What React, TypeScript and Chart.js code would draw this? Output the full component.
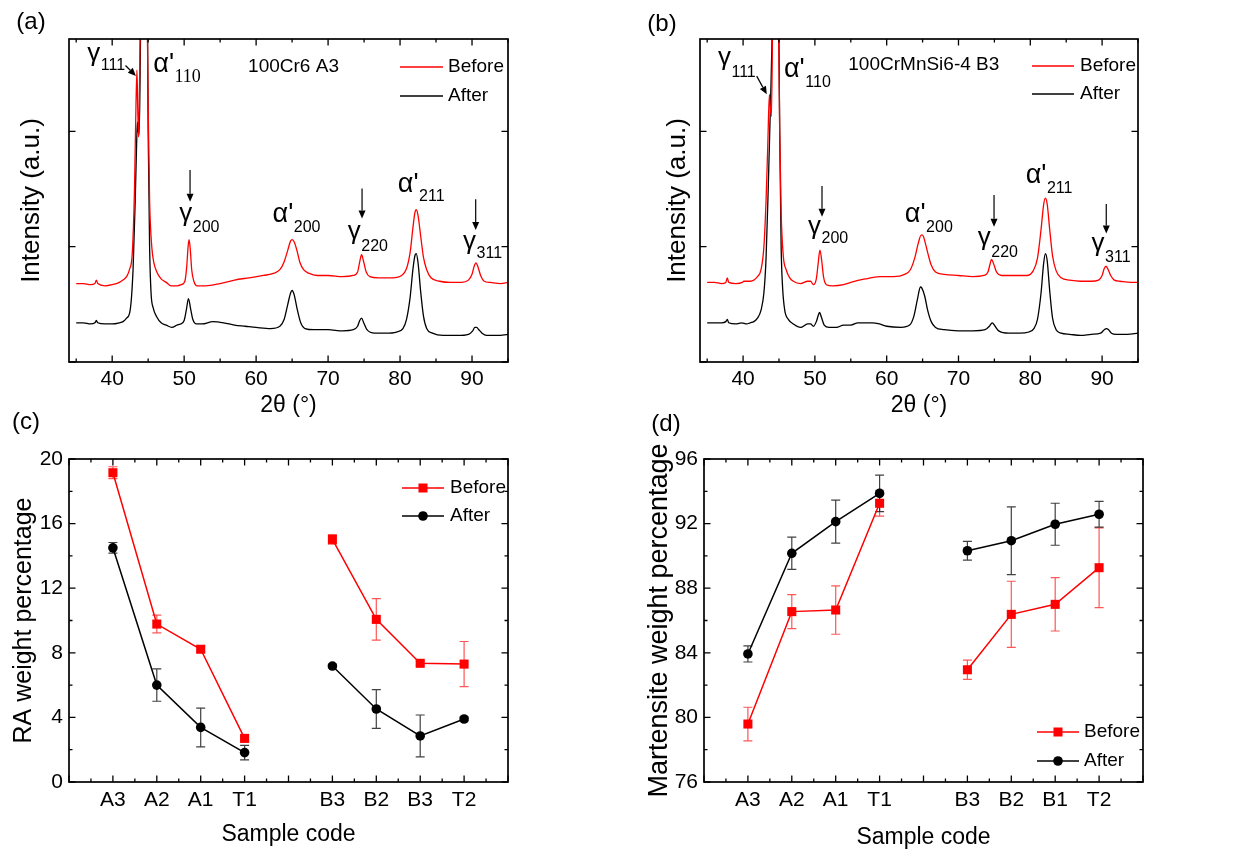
import React, { useEffect, useRef } from 'react';
import { Chart, registerables } from 'chart.js';

Chart.register(...registerables);

const SANS = '"Liberation Sans", Arial, Helvetica, sans-serif';
const SERIF = '"Liberation Serif", "Times New Roman", serif';
const RED = '#ff0000';
const BLACK = '#000000';
const RED_ERR = 'rgba(255,30,30,0.75)';
const BLACK_ERR = 'rgba(30,30,30,0.85)';

// ---------------- (a) 100Cr6 A3 : XRD, [2theta, intensity] ----------------
const xrdA_before: number[][] = [
  [35, 0.68], [36, 0.68], [37, 0.67], [37.6, 0.68], [37.8, 0.71], [38, 0.68], [39, 0.66], [40, 0.67],
  [41, 0.69], [41.5, 0.71], [42, 0.74], [42.4, 0.8], [42.8, 0.95], [43.1, 1.5], [43.3, 2.2], [43.44, 2.53],
  [43.55, 2.2], [43.67, 1.95], [43.8, 2.4], [44.0, 3.5], [44.4, 6.0], [44.8, 3.5], [45.0, 2.2], [45.2, 1.4],
  [45.5, 1.0], [45.8, 0.86], [46.2, 0.78], [46.8, 0.72], [47.5, 0.69], [48.2, 0.66], [49, 0.66], [49.6, 0.67],
  [50.1, 0.7], [50.35, 0.82], [50.55, 1.0], [50.68, 1.06], [50.85, 0.98], [51.05, 0.8], [51.35, 0.7], [51.8, 0.66],
  [53, 0.66], [55, 0.68], [57, 0.71], [59, 0.73], [61, 0.75], [62.5, 0.77], [63.3, 0.8], [63.9, 0.87],
  [64.4, 0.97], [64.8, 1.05], [65.0, 1.06], [65.3, 1.04], [65.7, 0.96], [66.1, 0.86], [66.6, 0.8], [67.3, 0.77],
  [68.5, 0.75], [70, 0.75], [72, 0.74], [73.5, 0.75], [74.1, 0.78], [74.4, 0.87], [74.65, 0.93], [74.9, 0.88],
  [75.3, 0.78], [75.8, 0.74], [77, 0.73], [79, 0.73], [80.2, 0.75], [80.9, 0.81], [81.4, 0.95], [81.8, 1.17],
  [82.05, 1.29], [82.25, 1.32], [82.5, 1.27], [82.85, 1.1], [83.25, 0.91], [83.7, 0.8], [84.3, 0.73], [85.5, 0.7],
  [87, 0.69], [88.5, 0.69], [89.5, 0.71], [90.0, 0.76], [90.3, 0.83], [90.55, 0.86], [90.85, 0.82], [91.2, 0.75],
  [91.7, 0.7], [92.5, 0.69], [94, 0.68], [95, 0.69],
];
const xrdA_after: number[][] = [
  [35, 0.34], [36, 0.34], [37, 0.33], [37.6, 0.34], [37.8, 0.36], [38, 0.34], [39, 0.33], [40, 0.33],
  [41, 0.34], [41.5, 0.35], [42, 0.38], [42.5, 0.45], [42.9, 0.8], [43.2, 1.4], [43.4, 1.9], [43.5, 2.08],
  [43.62, 2.0], [43.75, 1.97], [43.9, 2.6], [44.1, 4.0], [44.45, 6.0], [44.8, 4.0], [45.0, 2.0], [45.2, 1.0],
  [45.4, 0.6], [45.7, 0.47], [46.2, 0.39], [46.8, 0.34], [47.5, 0.32], [48.3, 0.3], [49, 0.32], [49.5, 0.33],
  [50.0, 0.36], [50.3, 0.45], [50.6, 0.55], [50.9, 0.46], [51.2, 0.37], [51.7, 0.33], [52.5, 0.33], [54, 0.35],
  [55.5, 0.34], [57, 0.32], [58.5, 0.31], [60, 0.3], [62, 0.29], [63.3, 0.31], [63.9, 0.37], [64.4, 0.5],
  [64.8, 0.6], [65.0, 0.62], [65.3, 0.58], [65.7, 0.46], [66.2, 0.34], [66.8, 0.29], [68, 0.28], [70, 0.28],
  [72, 0.27], [73.5, 0.28], [74.1, 0.31], [74.4, 0.36], [74.65, 0.38], [74.95, 0.34], [75.4, 0.28], [76.5, 0.25],
  [78, 0.25], [79.5, 0.26], [80.4, 0.29], [80.9, 0.37], [81.4, 0.56], [81.8, 0.81], [82.1, 0.93], [82.25, 0.94],
  [82.5, 0.86], [82.85, 0.62], [83.25, 0.4], [83.7, 0.29], [84.5, 0.25], [86, 0.23], [88, 0.23], [89.5, 0.24],
  [90.1, 0.27], [90.4, 0.3], [90.65, 0.3], [90.95, 0.28], [91.4, 0.25], [92, 0.23], [93.5, 0.23], [95, 0.24],
];

// ---------------- (b) 100CrMnSi6-4 B3 : XRD ----------------
const xrdB_before: number[][] = [
  [35, 0.69], [36, 0.69], [37, 0.68], [37.6, 0.69], [37.8, 0.73], [38.0, 0.69], [39, 0.68], [39.9, 0.69],
  [40.1, 0.7], [41, 0.7], [42, 0.74], [42.5, 0.8], [42.9, 1.0], [43.2, 1.4], [43.45, 1.9], [43.66, 2.32],
  [43.8, 2.2], [43.95, 2.13], [44.1, 2.9], [44.5, 6.0], [44.9, 3.2], [45.1, 2.0], [45.3, 1.3], [45.6, 0.92],
  [46, 0.8], [46.5, 0.73], [47, 0.7], [48, 0.68], [49, 0.7], [49.4, 0.7], [49.8, 0.67], [50.2, 0.72],
  [50.45, 0.85], [50.7, 0.97], [50.95, 0.88], [51.2, 0.74], [51.6, 0.67], [52.5, 0.66], [54, 0.67], [55, 0.69],
  [57, 0.72], [59, 0.74], [61, 0.74], [62.5, 0.76], [63.3, 0.8], [63.9, 0.9], [64.4, 1.03], [64.8, 1.1],
  [65.0, 1.1], [65.3, 1.05], [65.7, 0.95], [66.2, 0.84], [66.8, 0.78], [68, 0.76], [70, 0.75], [72, 0.74],
  [73.5, 0.75], [74.1, 0.78], [74.4, 0.85], [74.6, 0.89], [74.9, 0.85], [75.3, 0.78], [76, 0.75], [78, 0.75],
  [79.5, 0.75], [80.4, 0.79], [81.0, 0.9], [81.5, 1.15], [81.85, 1.36], [82.1, 1.42], [82.35, 1.37], [82.7, 1.15],
  [83.1, 0.92], [83.6, 0.79], [84.3, 0.73], [85.5, 0.71], [87, 0.7], [88.5, 0.7], [89.5, 0.71], [90.0, 0.75],
  [90.3, 0.81], [90.55, 0.83], [90.85, 0.8], [91.2, 0.75], [91.7, 0.71], [92.5, 0.7], [94, 0.69], [95, 0.69],
];
const xrdB_after: number[][] = [
  [35, 0.34], [36, 0.34], [37, 0.34], [37.6, 0.35], [37.8, 0.37], [38, 0.34], [39, 0.33], [39.8, 0.34],
  [40.5, 0.33], [41, 0.34], [41.5, 0.35], [42, 0.38], [42.5, 0.45], [42.9, 0.6], [43.2, 0.9], [43.5, 1.5],
  [43.8, 2.2], [44.0, 2.7], [44.2, 3.5], [44.5, 6.0], [44.9, 3.5], [45.1, 2.0], [45.3, 1.0], [45.5, 0.65],
  [45.8, 0.45], [46.3, 0.37], [47, 0.33], [48, 0.3], [49, 0.33], [49.4, 0.33], [49.8, 0.31], [50.2, 0.35],
  [50.5, 0.41], [50.65, 0.43], [50.9, 0.39], [51.3, 0.32], [52, 0.3], [53, 0.3], [54, 0.32], [55, 0.32],
  [56, 0.34], [57, 0.34], [58, 0.34], [59, 0.33], [60, 0.31], [62, 0.3], [63.2, 0.32], [63.8, 0.4],
  [64.3, 0.55], [64.7, 0.65], [64.9, 0.64], [65.3, 0.57], [65.7, 0.45], [66.2, 0.35], [66.8, 0.3], [68, 0.28],
  [70, 0.27], [72, 0.27], [73.7, 0.28], [74.3, 0.31], [74.7, 0.34], [75.1, 0.31], [75.6, 0.27], [77, 0.25],
  [78.5, 0.25], [79.8, 0.26], [80.5, 0.29], [81.0, 0.37], [81.5, 0.6], [81.85, 0.85], [82.1, 0.94], [82.35, 0.88],
  [82.7, 0.62], [83.1, 0.38], [83.6, 0.28], [84.3, 0.25], [85.5, 0.24], [87, 0.23], [88.5, 0.24], [89.8, 0.25],
  [90.3, 0.28], [90.6, 0.29], [90.9, 0.28], [91.3, 0.25], [92, 0.24], [93.5, 0.24], [95, 0.25],
];

// ---------------- (c) / (d) weight percentages ----------------
const samplePos = [1, 2, 3, 4, 6, 7, 8, 9];
const codesC = ['A3', 'A2', 'A1', 'T1', 'B3', 'B2', 'B3', 'T2'];
const codesD = ['A3', 'A2', 'A1', 'T1', 'B3', 'B2', 'B1', 'T2'];

const raBefore = [19.15, 9.78, 8.22, 2.7, 15.02, 10.07, 7.35, 7.3];
const raBeforeErr = [0.37, 0.55, 0.18, 0.12, 0.3, 1.28, 0.12, 1.4];
const raAfter = [14.5, 6.0, 3.38, 1.82, 7.18, 4.52, 2.85, 3.9];
const raAfterErr = [0.33, 1.0, 1.2, 0.45, 0.12, 1.2, 1.3, 0.12];

const martBefore = [79.59, 86.55, 86.65, 93.26, 82.95, 86.38, 87.0, 89.27];
const martBeforeErr = [1.04, 1.05, 1.5, 0.8, 0.6, 2.05, 1.65, 2.47];
const martAfter = [83.93, 90.16, 92.12, 93.87, 90.32, 90.94, 91.96, 92.58];
const martAfterErr = [0.5, 1.0, 1.33, 1.13, 0.58, 2.1, 1.3, 0.8];

// ---------------- annotations (data coordinates) ----------------
type Ann = { x: number; y: number; main: string; sub: string; subDy: number; subFont?: string; subSize?: number };
const annA: Ann[] = [
  { x: 36.55, y: 2.608, main: 'γ', sub: '111', subDy: 9 },
  { x: 45.71, y: 2.513, main: "α'", sub: '110', subDy: 10, subFont: SERIF, subSize: 18 },
  { x: 49.33, y: 1.222, main: 'γ', sub: '200', subDy: 11 },
  { x: 62.28, y: 1.213, main: "α'", sub: '200', subDy: 10 },
  { x: 72.73, y: 1.066, main: 'γ', sub: '220', subDy: 12 },
  { x: 79.69, y: 1.473, main: "α'", sub: '211', subDy: 9 },
  { x: 88.75, y: 0.979, main: 'γ', sub: '311', subDy: 9 },
];
const annB: Ann[] = [
  { x: 36.5, y: 2.574, main: 'γ', sub: '111', subDy: 12 },
  { x: 45.7, y: 2.47, main: "α'", sub: '110', subDy: 10 },
  { x: 49.04, y: 1.109, main: 'γ', sub: '200', subDy: 9 },
  { x: 62.53, y: 1.213, main: "α'", sub: '200', subDy: 10 },
  { x: 72.68, y: 1.014, main: 'γ', sub: '220', subDy: 12 },
  { x: 79.36, y: 1.551, main: "α'", sub: '211', subDy: 10 },
  { x: 88.54, y: 0.962, main: 'γ', sub: '311', subDy: 11 },
];
const arrowsA = [
  [41.85, 2.57, 43.3, 2.48],
  [50.82, 1.664, 50.82, 1.389],
  [74.72, 1.505, 74.72, 1.245],
  [90.51, 1.41, 90.51, 1.144],
];
const arrowsB = [
  [41.9, 2.478, 43.3, 2.32],
  [50.99, 1.525, 50.99, 1.259],
  [74.95, 1.447, 74.95, 1.172],
  [90.58, 1.369, 90.58, 1.115],
];

// ---------------- plugin: frame, inward ticks, error bars, legend, labels ----------------
function decor(d: any) {
  return {
    id: 'decor',
    beforeDatasetsDraw(chart: any) {
      const ctx = chart.ctx;
      const xs = chart.scales.x;
      const ys = chart.scales.y;
      chart.data.datasets.forEach((ds: any) => {
        if (!ds.errorColor) return;
        ctx.save();
        ctx.strokeStyle = ds.errorColor;
        ctx.lineWidth = 1.2;
        ds.data.forEach((p: any) => {
          if (p.y == null || !p.e) return;
          const px = xs.getPixelForValue(p.x);
          const y1 = ys.getPixelForValue(p.y + p.e);
          const y2 = ys.getPixelForValue(p.y - p.e);
          ctx.beginPath();
          ctx.moveTo(px, y1); ctx.lineTo(px, y2);
          ctx.moveTo(px - 4.5, y1); ctx.lineTo(px + 4.5, y1);
          ctx.moveTo(px - 4.5, y2); ctx.lineTo(px + 4.5, y2);
          ctx.stroke();
        });
        ctx.restore();
      });
    },
    afterDatasetsDraw(chart: any) {
      const ctx = chart.ctx;
      const { left, right, top, bottom } = chart.chartArea;
      const xs = chart.scales.x;
      const ys = chart.scales.y;
      const isMaj = (v: number, m: number) => Math.abs(v / m - Math.round(v / m)) < 1e-6;
      ctx.save();
      ctx.strokeStyle = '#000';
      ctx.lineWidth = 1.3;
      for (let k = Math.ceil(xs.min / d.xStep - 1e-9); k * d.xStep <= xs.max + 1e-9; k++) {
        const v = k * d.xStep;
        const p = xs.getPixelForValue(v);
        const L = isMaj(v, d.xMajor) ? 6.5 : 3.5;
        ctx.beginPath();
        ctx.moveTo(p, bottom); ctx.lineTo(p, bottom - L);
        ctx.moveTo(p, top); ctx.lineTo(p, top + L);
        ctx.stroke();
      }
      for (let k = Math.ceil(ys.min / d.yStep - 1e-9); k * d.yStep <= ys.max + 1e-9; k++) {
        const v = k * d.yStep;
        const p = ys.getPixelForValue(v);
        const L = isMaj(v, d.yMajor) ? 6.5 : 3.5;
        ctx.beginPath();
        ctx.moveTo(left, p); ctx.lineTo(left + L, p);
        ctx.moveTo(right, p); ctx.lineTo(right - L, p);
        ctx.stroke();
      }
      ctx.lineWidth = 1.7;
      ctx.strokeRect(left, top, right - left, bottom - top);

      // annotations
      ctx.fillStyle = '#000';
      ctx.textAlign = 'left';
      ctx.textBaseline = 'alphabetic';
      (d.anns || []).forEach((a: Ann) => {
        const px = xs.getPixelForValue(a.x);
        const py = ys.getPixelForValue(a.y);
        const isAlpha = a.main.startsWith('α');
        ctx.font = `${isAlpha ? 27 : 26}px ${SANS}`;
        ctx.fillText(a.main, px, py);
        const w = ctx.measureText(a.main).width;
        ctx.font = `${a.subSize || 16}px ${a.subFont || SANS}`;
        ctx.fillText(a.sub, px + w + 0.5, py + a.subDy);
      });
      // arrows
      ctx.strokeStyle = '#000';
      ctx.lineWidth = 1.2;
      (d.arrows || []).forEach((ar: number[]) => {
        const x1 = xs.getPixelForValue(ar[0]);
        const y1 = ys.getPixelForValue(ar[1]);
        const x2 = xs.getPixelForValue(ar[2]);
        const y2 = ys.getPixelForValue(ar[3]);
        const ang = Math.atan2(y2 - y1, x2 - x1);
        const hl = 8, hw = 3.5;
        const bx = x2 - hl * Math.cos(ang);
        const by = y2 - hl * Math.sin(ang);
        ctx.beginPath();
        ctx.moveTo(x1, y1); ctx.lineTo(bx, by);
        ctx.stroke();
        ctx.beginPath();
        ctx.moveTo(x2, y2);
        ctx.lineTo(bx + hw * Math.sin(ang), by - hw * Math.cos(ang));
        ctx.lineTo(bx - hw * Math.sin(ang), by + hw * Math.cos(ang));
        ctx.closePath();
        ctx.fill();
      });
      // sample note
      if (d.note) {
        ctx.font = `19px ${SANS}`;
        ctx.textAlign = 'center';
        ctx.textBaseline = 'middle';
        ctx.fillText(d.note.text, xs.getPixelForValue(d.note.x), ys.getPixelForValue(d.note.y));
      }
      // legend
      const L = d.legend;
      chart.data.datasets.forEach((ds: any, i: number) => {
        const y = L.y0 + i * L.dy;
        ctx.strokeStyle = ds.borderColor;
        ctx.lineWidth = 1.5;
        ctx.beginPath();
        ctx.moveTo(L.x1, y); ctx.lineTo(L.x2, y);
        ctx.stroke();
        if (L.markers) {
          const mx = (L.x1 + L.x2) / 2;
          ctx.fillStyle = ds.borderColor;
          if (ds.pointStyle === 'rect') {
            ctx.fillRect(mx - 4.5, y - 4.5, 9, 9);
          } else {
            ctx.beginPath();
            ctx.arc(mx, y, 4.8, 0, Math.PI * 2);
            ctx.fill();
          }
        }
        ctx.fillStyle = '#000';
        ctx.font = `19px ${SANS}`;
        ctx.textAlign = 'left';
        ctx.textBaseline = 'middle';
        ctx.fillText(ds.label, L.tx, y);
      });
      ctx.restore();
    },
    afterDraw(chart: any) {
      const ctx = chart.ctx;
      ctx.save();
      ctx.fillStyle = '#000';
      ctx.font = `24px ${SANS}`;
      ctx.textAlign = 'center';
      ctx.textBaseline = 'middle';
      ctx.fillText(d.label.text, d.label.x, d.label.y);
      ctx.restore();
    },
  };
}

const tickFont = { family: SANS, size: 21 };

function xrdConfig(o: any) {
  return {
    type: 'line',
    data: {
      datasets: [
        { label: 'Before', data: o.before.map((p: number[]) => ({ x: p[0], y: p[1] })), borderColor: RED, borderWidth: 1.3, pointRadius: 0, cubicInterpolationMode: 'monotone' },
        { label: 'After', data: o.after.map((p: number[]) => ({ x: p[0], y: p[1] })), borderColor: BLACK, borderWidth: 1.3, pointRadius: 0, cubicInterpolationMode: 'monotone' },
      ],
    },
    options: {
      responsive: false,
      animation: false,
      devicePixelRatio: 1,
      events: [],
      layout: { padding: { top: 39, right: o.padRight, left: 0, bottom: 0 } },
      plugins: { legend: { display: false }, tooltip: { enabled: false } },
      scales: {
        x: {
          type: 'linear', min: 34, max: 95,
          afterFit: (s: any) => { s.height = 68; },
          grid: { display: false, drawTicks: false },
          border: { display: false },
          ticks: {
            stepSize: 5, includeBounds: false, autoSkip: false, maxRotation: 0, padding: 5, color: '#000', font: tickFont,
            callback: (v: number) => (v % 10 === 0 ? String(v) : ''),
          },
          title: { display: true, text: '2θ (°)', color: '#000', font: { family: SANS, size: 23 }, padding: { top: 0, bottom: 11 } },
        },
        y: {
          type: 'linear', min: 0, max: 2.8,
          afterFit: (s: any) => { s.width = o.yWidth; },
          grid: { display: false, drawTicks: false },
          border: { display: false },
          ticks: { display: false, stepSize: 1 },
          title: { display: true, text: 'Intensity (a.u.)', color: '#000', font: { family: SANS, size: 26 }, padding: { top: o.yTitlePad, bottom: 0 } },
        },
      },
    },
    plugins: [decor({ xStep: 5, xMajor: 10, yStep: 1, yMajor: 1, anns: o.anns, arrows: o.arrows, note: o.note, legend: o.legend, label: o.label })],
  };
}

function points(vals: number[], errs: number[]) {
  const pts: any[] = [];
  vals.forEach((v, i) => {
    if (i === 4) pts.push({ x: 5, y: null });
    pts.push({ x: samplePos[i], y: v, e: errs[i] });
  });
  return pts;
}

function catConfig(o: any) {
  return {
    type: 'line',
    data: {
      datasets: [
        { label: 'Before', data: points(o.before, o.beforeErr), borderColor: RED, backgroundColor: RED, borderWidth: 1.5, pointStyle: 'rect', pointRadius: 6.4, pointBorderWidth: 0, pointBackgroundColor: RED, errorColor: RED_ERR, order: 1 },
        { label: 'After', data: points(o.after, o.afterErr), borderColor: BLACK, backgroundColor: BLACK, borderWidth: 1.5, pointStyle: 'circle', pointRadius: 4.8, pointBorderWidth: 0, pointBackgroundColor: BLACK, errorColor: BLACK_ERR, order: 0 },
      ],
    },
    options: {
      responsive: false,
      animation: false,
      devicePixelRatio: 1,
      events: [],
      layout: { padding: { top: 64, right: o.padRight, left: 0, bottom: 0 } },
      plugins: { legend: { display: false }, tooltip: { enabled: false } },
      scales: {
        x: {
          type: 'linear', min: 0, max: 10,
          afterFit: (s: any) => { s.height = 75; },
          grid: { display: false, drawTicks: false },
          border: { display: false },
          ticks: {
            stepSize: 0.5, maxTicksLimit: 100, autoSkip: false, maxRotation: 0, padding: 6, color: '#000', font: tickFont,
            callback: (v: number) => { const i = samplePos.indexOf(v); return i >= 0 ? o.codes[i] : ''; },
          },
          title: { display: true, text: 'Sample code', color: '#000', font: { family: SANS, size: 23 }, padding: { top: 0, bottom: o.xTitlePad } },
        },
        y: {
          type: 'linear', min: o.yMin, max: o.yMax,
          afterFit: (s: any) => { s.width = o.yWidth; },
          grid: { display: false, drawTicks: false },
          border: { display: false },
          ticks: {
            stepSize: 2, maxTicksLimit: 100, autoSkip: false, padding: 6, color: '#000', font: tickFont,
            callback: (v: number) => (v % 4 === 0 ? String(v) : ''),
          },
          title: { display: true, text: o.yTitle, color: '#000', font: { family: SANS, size: o.yTitleSize }, padding: { top: o.yTitlePad, bottom: 0 } },
        },
      },
    },
    plugins: [decor({ xStep: 0.5, xMajor: 1, yStep: 2, yMajor: 4, legend: o.legend, label: o.label })],
  };
}

function ChartCanvas({ left, top, width, height, make }: any) {
  const ref = useRef<HTMLCanvasElement | null>(null);
  useEffect(() => {
    const chart = new Chart(ref.current as HTMLCanvasElement, make());
    return () => chart.destroy();
  }, []);
  return <canvas ref={ref} width={width} height={height} style={{ position: 'absolute', left, top, width, height }} />;
}

export default function App() {
  return (
    <div style={{ position: 'absolute', left: 0, top: 0, width: 1252, height: 857, background: '#fff', overflow: 'hidden' }}>
      <ChartCanvas left={0} top={0} width={626} height={430} make={() => xrdConfig({
        before: xrdA_before, after: xrdA_after, padRight: 118, yWidth: 69, yTitlePad: 16,
        anns: annA, arrows: arrowsA, note: { text: '100Cr6 A3', x: 65.2, y: 2.556 },
        legend: { x1: 400, x2: 443, tx: 448, y0: 67, dy: 29, markers: false },
        label: { text: '(a)', x: 31, y: 22 },
      })} />
      <ChartCanvas left={626} top={0} width={626} height={430} make={() => xrdConfig({
        before: xrdB_before, after: xrdB_after, padRight: 114, yWidth: 74, yTitlePad: 36,
        anns: annB, arrows: arrowsB, note: { text: '100CrMnSi6-4 B3', x: 65.17, y: 2.574 },
        legend: { x1: 406, x2: 448, tx: 454, y0: 66, dy: 28, markers: false },
        label: { text: '(b)', x: 36, y: 24 },
      })} />
      <ChartCanvas left={0} top={395} width={626} height={462} make={() => catConfig({
        before: raBefore, beforeErr: raBeforeErr, after: raAfter, afterErr: raAfterErr, codes: codesC,
        yMin: 0, yMax: 20, yTitle: 'RA weight percentage', yTitleSize: 25, yTitlePad: 9, yWidth: 69, padRight: 118, xTitlePad: 9,
        legend: { x1: 402, x2: 444, tx: 450, y0: 93, dy: 28, markers: true },
        label: { text: '(c)', x: 26, y: 27 },
      })} />
      <ChartCanvas left={626} top={395} width={626} height={462} make={() => catConfig({
        before: martBefore, beforeErr: martBeforeErr, after: martAfter, afterErr: martAfterErr, codes: codesD,
        yMin: 76, yMax: 96, yTitle: 'Martensite weight percentage', yTitleSize: 27, yTitlePad: 17, yWidth: 78, padRight: 109, xTitlePad: 6,
        legend: { x1: 411, x2: 453, tx: 458, y0: 337, dy: 29, markers: true },
        label: { text: '(d)', x: 40, y: 29 },
      })} />
    </div>
  );
}
